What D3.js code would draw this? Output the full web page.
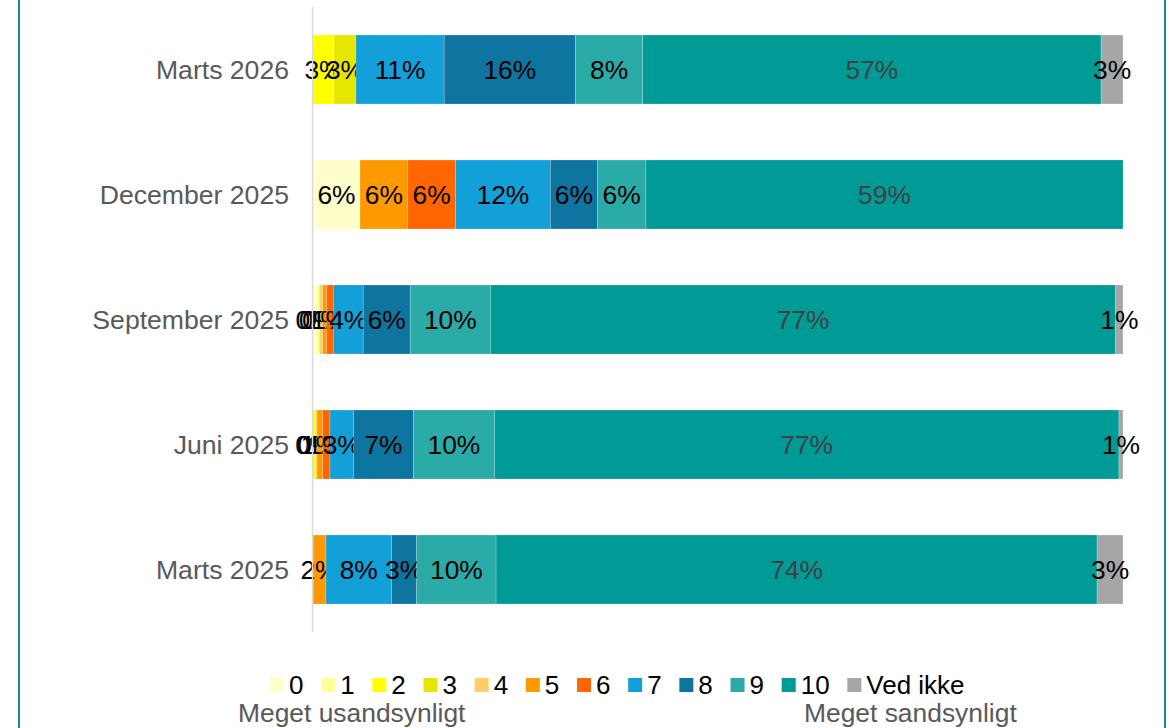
<!DOCTYPE html>
<html>
<head>
<meta charset="utf-8">
<script src="https://cdn.jsdelivr.net/npm/d3@7"></script>
<style>
  body { margin: 0; background: #fff; }
  svg { display: block; font-family: "Liberation Sans", Arial, sans-serif; }
</style>
</head>
<body>
<div class="container"></div>
<script>
// categories (top to bottom)
const categories = ["Marts 2026", "December 2025", "September 2025", "Juni 2025", "Marts 2025"];
// answer levels
const levels = ["0", "1", "2", "3", "4", "5", "6", "7", "8", "9", "10", "Ved ikke"];
const levelColors = ["#FFFFCC", "#FFFF99", "#FFFF00", "#E6E600", "#FFCC66", "#FF9900",
                     "#FF6600", "#139FD7", "#0E74A0", "#2BABA8", "#009A97", "#A6A6A6"];

// share in % for each level, one array per category
const marts2026     = [0, 0, 2.6, 2.7, 0, 0, 0, 10.9, 16.2, 8.3, 56.6, 2.7];
const december2025  = [5.8, 0, 0, 0, 0, 5.9, 5.9, 11.7, 5.8, 6.0, 58.9, 0];
const september2025 = [0.4, 0.4, 0, 0, 0.4, 0.5, 0.8, 3.7, 5.8, 9.9, 77.2, 0.9];
const juni2025      = [0, 0, 0.3, 0, 0.2, 0.7, 0.9, 2.9, 7.4, 10.0, 77.1, 0.5];
const marts2025     = [0, 0, 0, 0, 0, 1.6, 0, 8.1, 3.1, 9.8, 74.2, 3.2];

const rows = [marts2026, december2025, september2025, juni2025, marts2025];

const width = 1168, height = 728;
const svg = d3.select(".container").append("svg")
  .attr("width", width)
  .attr("height", height);

// build table for the stack
const table = categories.map(function (c, i) {
  const o = { cat: c };
  levels.forEach(function (l, j) { o[l] = rows[i][j]; });
  return o;
});

const series = d3.stack().keys(levels)(table);

const x = d3.scaleLinear().domain([0, 100]).range([313, 1123]);
const y = d3.scaleBand().domain(categories).range([7, 632])
  .paddingInner(0.448).paddingOuter(0.224);
const color = d3.scaleOrdinal().domain(levels).range(levelColors);

// outer frame
svg.append("line").attr("x1", 19).attr("x2", 19).attr("y1", 0).attr("y2", height)
  .attr("stroke", "#178E8C").attr("stroke-width", 2);
svg.append("line").attr("x1", 1165).attr("x2", 1165).attr("y1", 0).attr("y2", height)
  .attr("stroke", "#178E8C").attr("stroke-width", 2);

// bars
const groups = svg.selectAll("g.layer")
  .data(series)
  .enter()
  .append("g")
  .attr("class", "layer")
  .attr("fill", d => color(d.key));

groups.selectAll("rect")
  .data(d => d.map(v => Object.assign(v, { key: d.key })))
  .enter()
  .append("rect")
  .attr("x", d => x(d[0]))
  .attr("y", d => y(d.data.cat))
  .attr("width", d => x(d[1]) - x(d[0]))
  .attr("height", y.bandwidth())
  .attr("stroke", "rgba(255,255,255,0.35)")
  .attr("stroke-width", 0.6);

// vertical axis line
svg.append("line")
  .attr("x1", 312.5).attr("x2", 312.5)
  .attr("y1", 7).attr("y2", 632)
  .attr("stroke", "#D9D9D9").attr("stroke-width", 1.5);

// category labels
svg.selectAll("text.cat")
  .data(categories)
  .enter()
  .append("text")
  .attr("class", "cat")
  .attr("x", 289)
  .attr("y", d => y(d) + y.bandwidth() / 2 + 9)
  .attr("text-anchor", "end")
  .attr("font-size", 26.6)
  .attr("fill", "#595959")
  .text(d => d);

// data labels
groups.selectAll("text")
  .data(d => d.filter(v => v[1] - v[0] > 0))
  .enter()
  .append("text")
  .attr("x", d => (x(d[0]) + x(d[1])) / 2)
  .attr("y", d => y(d.data.cat) + y.bandwidth() / 2 + 9)
  .attr("text-anchor", "middle")
  .attr("font-size", 26.4)
  .attr("fill", d => d.key === "10" ? "#404040" : "#000")
  .text(d => Math.round(d[1] - d[0]) + "%");

// legend
const legend = svg.append("g");
let lx = 270;
levels.forEach(function (l) {
  legend.append("rect")
    .attr("x", lx).attr("y", 678)
    .attr("width", 14).attr("height", 14)
    .attr("fill", color(l));
  const t = legend.append("text")
    .attr("x", lx + 19).attr("y", 694)
    .attr("font-size", 26)
    .attr("fill", "#000")
    .text(l);
  lx += 19 + t.node().getComputedTextLength() + 17.7;
});

svg.append("text").attr("x", 238).attr("y", 722)
  .attr("font-size", 26.4).attr("fill", "#595959")
  .text("Meget usandsynligt");
svg.append("text").attr("x", 804).attr("y", 722)
  .attr("font-size", 26.4).attr("fill", "#595959")
  .text("Meget sandsynligt");
</script>
</body>
</html>
